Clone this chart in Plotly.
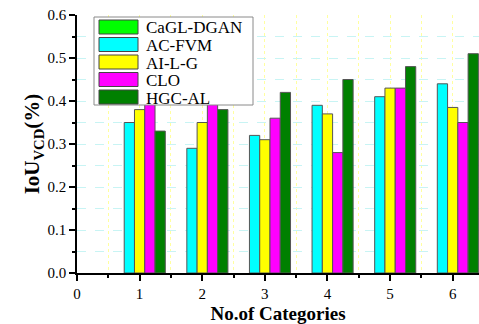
import plotly.graph_objects as go

# Data
categories = [1, 2, 3, 4, 5, 6]
series_names = ["CaGL-DGAN", "AC-FVM", "AI-L-G", "CLO", "HGC-AL"]
cagl_dgan = [0, 0, 0, 0, 0, 0]
ac_fvm = [0.35, 0.29, 0.32, 0.39, 0.41, 0.44]
ai_l_g = [0.38, 0.35, 0.31, 0.37, 0.43, 0.385]
clo = [0.42, 0.41, 0.36, 0.28, 0.43, 0.35]
hgc_al = [0.33, 0.38, 0.42, 0.45, 0.48, 0.51]
series_values = [cagl_dgan, ac_fvm, ai_l_g, clo, hgc_al]
series_colors = ["#00ff00", "#00ffff", "#ffff00", "#ff00ff", "#008000"]

y_ticks = [0.0, 0.1, 0.2, 0.3, 0.4, 0.5, 0.6]
y_tick_labels = ["0.0", "0.1", "0.2", "0.3", "0.4", "0.5", "0.6"]
x_ticks = [0, 1, 2, 3, 4, 5, 6]

FONT = "Liberation Serif"

# Page geometry (pixels)
W_PAGE, H_PAGE = 479, 324
M_L, M_R, M_T, M_B = 77, 0, 15, 51
PLOT_W = W_PAGE - M_L - M_R
PLOT_H = H_PAGE - M_T - M_B


def px_x(px):
    return (px - M_L) / PLOT_W


def px_y(py):
    return (H_PAGE - M_B - py) / PLOT_H


fig = go.Figure()
for name, vals, col in zip(series_names, series_values, series_colors):
    fig.add_trace(go.Bar(
        x=categories, y=vals, name=name,
        marker=dict(color=col,
                    line=dict(color="#555555", width=[1 if v > 0 else 0 for v in vals])),
        showlegend=False,
    ))

# Boxed legend drawn over the plot area
shapes = [dict(type="rect", xref="paper", yref="paper",
               x0=px_x(94), x1=px_x(253), y0=px_y(105), y1=px_y(17),
               fillcolor="white", line=dict(color="#8a8a8a", width=1),
               layer="above")]
annotations = []
row0, row_step = 27, 17.5
for i, (name, col) in enumerate(zip(series_names, series_colors)):
    cy = row0 + i * row_step
    shapes.append(dict(type="rect", xref="paper", yref="paper",
                       x0=px_x(99), x1=px_x(138), y0=px_y(cy + 7), y1=px_y(cy - 7),
                       fillcolor=col, line=dict(color="#444444", width=1),
                       layer="above"))
    annotations.append(dict(xref="paper", yref="paper", x=px_x(144), y=px_y(cy + 1),
                            text=name, showarrow=False, xanchor="left", yanchor="middle",
                            font=dict(family=FONT, size=17, color="black")))

fig.update_layout(
    width=W_PAGE, height=H_PAGE,
    margin=dict(l=M_L, r=M_R, t=M_T, b=M_B, pad=0),
    paper_bgcolor="white", plot_bgcolor="white",
    barmode="group", bargap=0.18, bargroupgap=0,
    font=dict(family=FONT, size=15, color="black"),
    shapes=shapes, annotations=annotations,
    xaxis=dict(
        range=[0, 6.42], tickmode="array", tickvals=x_ticks,
        showline=True, linecolor="black", linewidth=1.5,
        ticks="outside", ticklen=6, tickwidth=1.5, tickcolor="black",
        showgrid=False, zeroline=False,
        tickfont=dict(family=FONT, size=15, color="black"),
        minor=dict(dtick=0.5, ticks="outside", ticklen=3, tickcolor="black",
                   showgrid=True, gridcolor="#ffffa0", griddash="dot", gridwidth=1),
        title=dict(text="<b>No.of Categories</b>", standoff=9,
                   font=dict(family=FONT, size=19, color="black")),
    ),
    yaxis=dict(
        range=[0, 0.6], tickmode="array", tickvals=y_ticks, ticktext=y_tick_labels,
        showline=True, linecolor="black", linewidth=1.5,
        ticks="outside", ticklen=6, tickwidth=1.5, tickcolor="black",
        showgrid=False, zeroline=False,
        tickfont=dict(family=FONT, size=15, color="black"),
        minor=dict(dtick=0.05, tick0=0.05, ticks="outside", ticklen=3, tickcolor="black",
                   showgrid=True, gridcolor="#c8f4f4", griddash="dash", gridwidth=1),
        title=dict(text="<b>IoU<sub>VCD</sub>(%)</b>", standoff=2,
                   font=dict(family=FONT, size=21, color="black")),
    ),
)

fig.write_html("out.html")
